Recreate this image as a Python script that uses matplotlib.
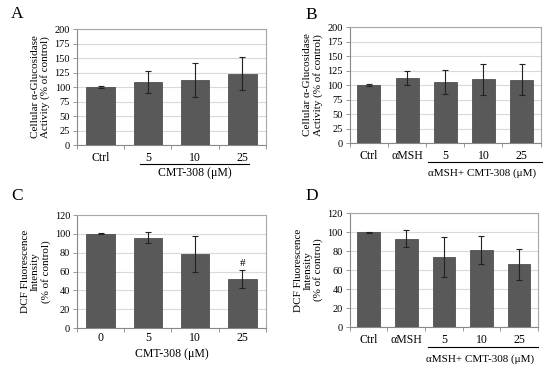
import matplotlib.pyplot as plt
import numpy as np
from matplotlib.transforms import blended_transform_factory

plt.rcParams['font.family'] = ['Liberation Serif', 'DejaVu Serif']

# panel A: alpha-glucosidase, CMT-308 alone
a_labels = ['Ctrl', '5', '10', '25']
a_vals = [100, 109, 112, 123]
a_err = [1, 19, 29, 28]

# panel B: alpha-glucosidase, aMSH + CMT-308
b_labels = ['Ctrl', 'αMSH', '5', '10', '25']
b_vals = [100, 112, 105, 110, 109]
b_err = [1, 12, 21, 27, 27]

# panel C: DCF fluorescence, CMT-308 alone
c_labels = ['0', '5', '10', '25']
c_vals = [100, 96, 79, 52]
c_err = [0.5, 6, 19, 10]

# panel D: DCF fluorescence, aMSH + CMT-308
d_labels = ['Ctrl', 'αMSH', '5', '10', '25']
d_vals = [100, 93, 74, 81, 66]
d_err = [0.5, 9, 21, 15, 16]

bar_color = '#595959'
grid_color = '#d9d9d9'

fig = plt.figure(figsize=(5.5, 3.7), dpi=100)


def draw_panel(rect, labels, vals, err, ymax, ystep, ylabel, letter, letter_xy, xpad=5):
    ax = fig.add_axes(rect)
    x = np.arange(len(labels))
    ax.bar(x, vals, width=0.6, color=bar_color, edgecolor='#404040', linewidth=0.5, zorder=3)
    ax.errorbar(x, vals, yerr=err, fmt='none', ecolor='#222222', elinewidth=0.8,
                capsize=2, capthick=0.8, zorder=4)
    ax.set_xlim(-0.5, len(labels) - 0.5)
    ax.set_ylim(0, ymax)
    ax.set_yticks(np.arange(0, ymax + 1, ystep))
    ax.yaxis.grid(True, color=grid_color, linewidth=0.8, zorder=0)
    ax.set_axisbelow(True)
    ax.set_xticks(x)
    ax.set_xticklabels(labels)
    ax.set_xticks(np.arange(-0.5, len(labels)), minor=True)
    ax.tick_params(axis='x', which='major', length=0, pad=xpad, labelsize=8.5)
    ax.tick_params(axis='x', which='minor', length=3, width=0.6, color='#888888')
    ax.tick_params(axis='y', length=3, width=0.6, pad=2, labelsize=7.5, color='#888888')
    for s in ['top', 'right']:
        ax.spines[s].set_color('#a6a6a6')
        ax.spines[s].set_linewidth(0.8)
    for s in ['left', 'bottom']:
        ax.spines[s].set_color('#888888')
        ax.spines[s].set_linewidth(0.8)
    ax.set_ylabel(ylabel, fontsize=8, labelpad=3, linespacing=1.1)
    fig.text(letter_xy[0], letter_xy[1], letter, fontsize=12.5, ha='left', va='center')
    return ax


ax_a = draw_panel([0.14, 0.608, 0.3436, 0.3135], a_labels, a_vals, a_err, 200, 25,
                  'Cellular α-Glucosidase\nActivity (% of control)', 'A', (0.02, 0.962))
tr = blended_transform_factory(ax_a.transData, ax_a.transAxes)
ax_a.plot([0.83, 3.14], [-0.164, -0.164], color='black', lw=0.8, transform=tr, clip_on=False)
ax_a.text(2.0, -0.245, 'CMT-308 (μM)', transform=tr, ha='center', va='center', fontsize=8.5)

ax_b = draw_panel([0.636, 0.6135, 0.347, 0.3135], b_labels, b_vals, b_err, 200, 25,
                  'Cellular α-Glucosidase\nActivity (% of control)', 'B', (0.556, 0.96))
tr = blended_transform_factory(ax_b.transData, ax_b.transAxes)
ax_b.plot([1.54, 4.53], [-0.164, -0.164], color='black', lw=0.8, transform=tr, clip_on=False)
ax_b.text(2.96, -0.26, 'αMSH+ CMT-308 (μM)', transform=tr, ha='center', va='center', fontsize=8)

ax_c = draw_panel([0.14, 0.1135, 0.3436, 0.3054], c_labels, c_vals, c_err, 120, 20,
                  'DCF Fluorescence\nIntensity\n(% of control)', 'C', (0.02, 0.47), xpad=3)
tr = blended_transform_factory(ax_c.transData, ax_c.transAxes)
ax_c.text(1.5, -0.23, 'CMT-308 (μM)', transform=tr, ha='center', va='center', fontsize=8.5)
ax_c.text(3, c_vals[3] + c_err[3] + 2, '#', ha='center', va='bottom', fontsize=8)

ax_d = draw_panel([0.636, 0.116, 0.342, 0.308], d_labels, d_vals, d_err, 120, 20,
                  'DCF Fluorescence\nIntensity\n(% of control)', 'D', (0.556, 0.47))
tr = blended_transform_factory(ax_d.transData, ax_d.transAxes)
ax_d.plot([1.57, 4.5], [-0.175, -0.175], color='black', lw=0.8, transform=tr, clip_on=False)
ax_d.text(2.96, -0.28, 'αMSH+ CMT-308 (μM)', transform=tr, ha='center', va='center', fontsize=8)

fig.savefig('out.png', dpi=100)
